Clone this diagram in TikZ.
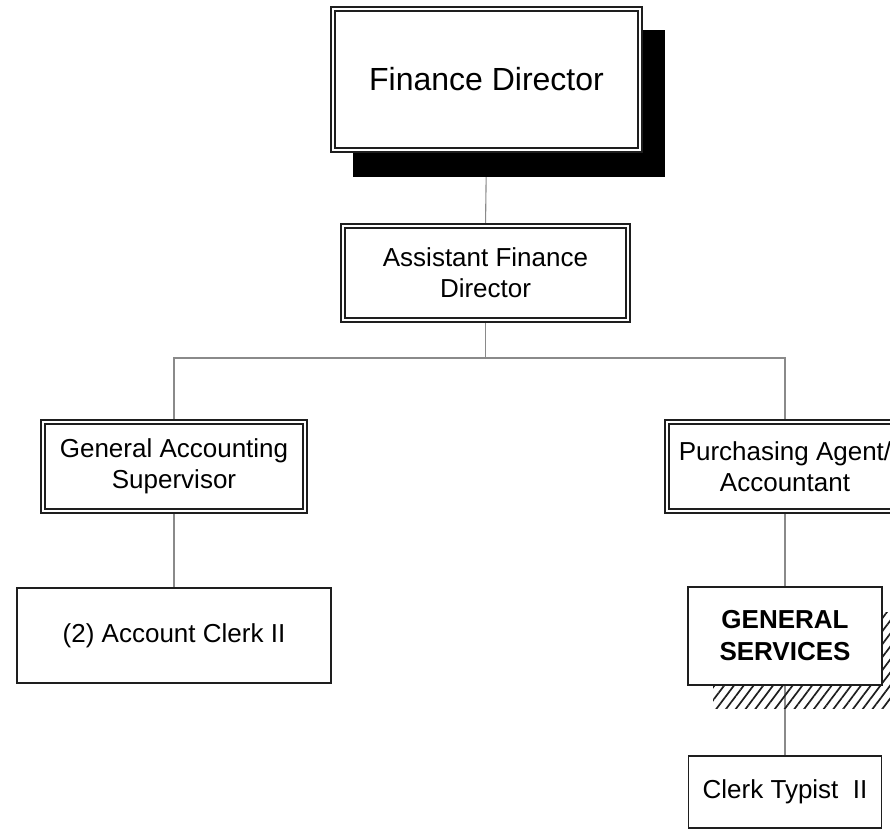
\documentclass[tikz,border=0pt]{standalone}
\usepackage{fontspec}
\setmainfont{Liberation Sans}
\usetikzlibrary{patterns.meta,backgrounds}
\pgfdeclarelayer{connlayer}
\pgfdeclarelayer{shadlayer}
\pgfsetlayers{connlayer,shadlayer,main}
\definecolor{boxc}{HTML}{1E1E1E}
\definecolor{connc}{HTML}{8A8A8A}
\begin{document}
\begin{tikzpicture}[x=1pt,y=-1pt,
  box/.style={draw=boxc, fill=white, outer sep=0pt, inner sep=0pt, align=center,
    text=black, font=\fontsize{26}{31}\selectfont},
  dbox/.style={box, line width=1.3pt, double=white, double distance=2.6pt},
  sbox/.style={box, line width=1.4pt},
  thickbox/.style={box, line width=2.6pt, font=\fontsize{26}{32}\selectfont\bfseries},
  connline/.style={draw=connc, line width=1.1pt}]
\useasboundingbox (0,0) rectangle (890,830);
\clip (0,0) rectangle (890,830);

\node[dbox, minimum width=307pt, minimum height=141pt, font=\fontsize{32}{38}\selectfont] (fd) at (486.5,79.5) {Finance Director};
\node[dbox, minimum width=285pt, minimum height=94pt] (afd) at (485.5,273) {Assistant Finance\\Director};
\node[dbox, minimum width=262pt, minimum height=89pt] (gas) at (174,466.5) {General Accounting\\Supervisor};
\node[dbox, minimum width=236pt, minimum height=89pt] (pa) at (785,466.5) {Purchasing Agent/\\Accountant};
\node[sbox, minimum width=314pt, minimum height=95pt] (ac) at (174,635.5) {(2) Account Clerk II};
\node[thickbox, minimum width=194pt, minimum height=98pt] (gs) at (785,636) {GENERAL\\SERVICES};
\node[sbox, minimum width=193pt, minimum height=72pt] (ct) at (785,792) {Clerk Typist\ \ II};

\coordinate (bus) at (485.5,358);

\begin{pgfonlayer}{shadlayer}
  \fill[black] ([xshift=20pt,yshift=-21pt]fd.north west) rectangle ([xshift=25pt,yshift=-27pt]fd.south east);
  \fill[pattern={Lines[angle=53,distance=7.8pt,line width=1.7pt]}, pattern color=boxc]
    ([xshift=25pt,yshift=-25pt]gs.north west) rectangle (890,708);
\end{pgfonlayer}

\begin{pgfonlayer}{connlayer}
  \draw[connline] (fd.south) -- (afd.north);
  \draw[connline] (afd.south) -- (bus);
  \draw[connline] (gas.north) |- (bus) -| (pa.north);
  \draw[connline] (gas.south) -- (ac.north);
  \draw[connline] (pa.south) -- (gs.north);
  \draw[connline] (gs.south) -- (ct.north);
\end{pgfonlayer}
\end{tikzpicture}
\end{document}
